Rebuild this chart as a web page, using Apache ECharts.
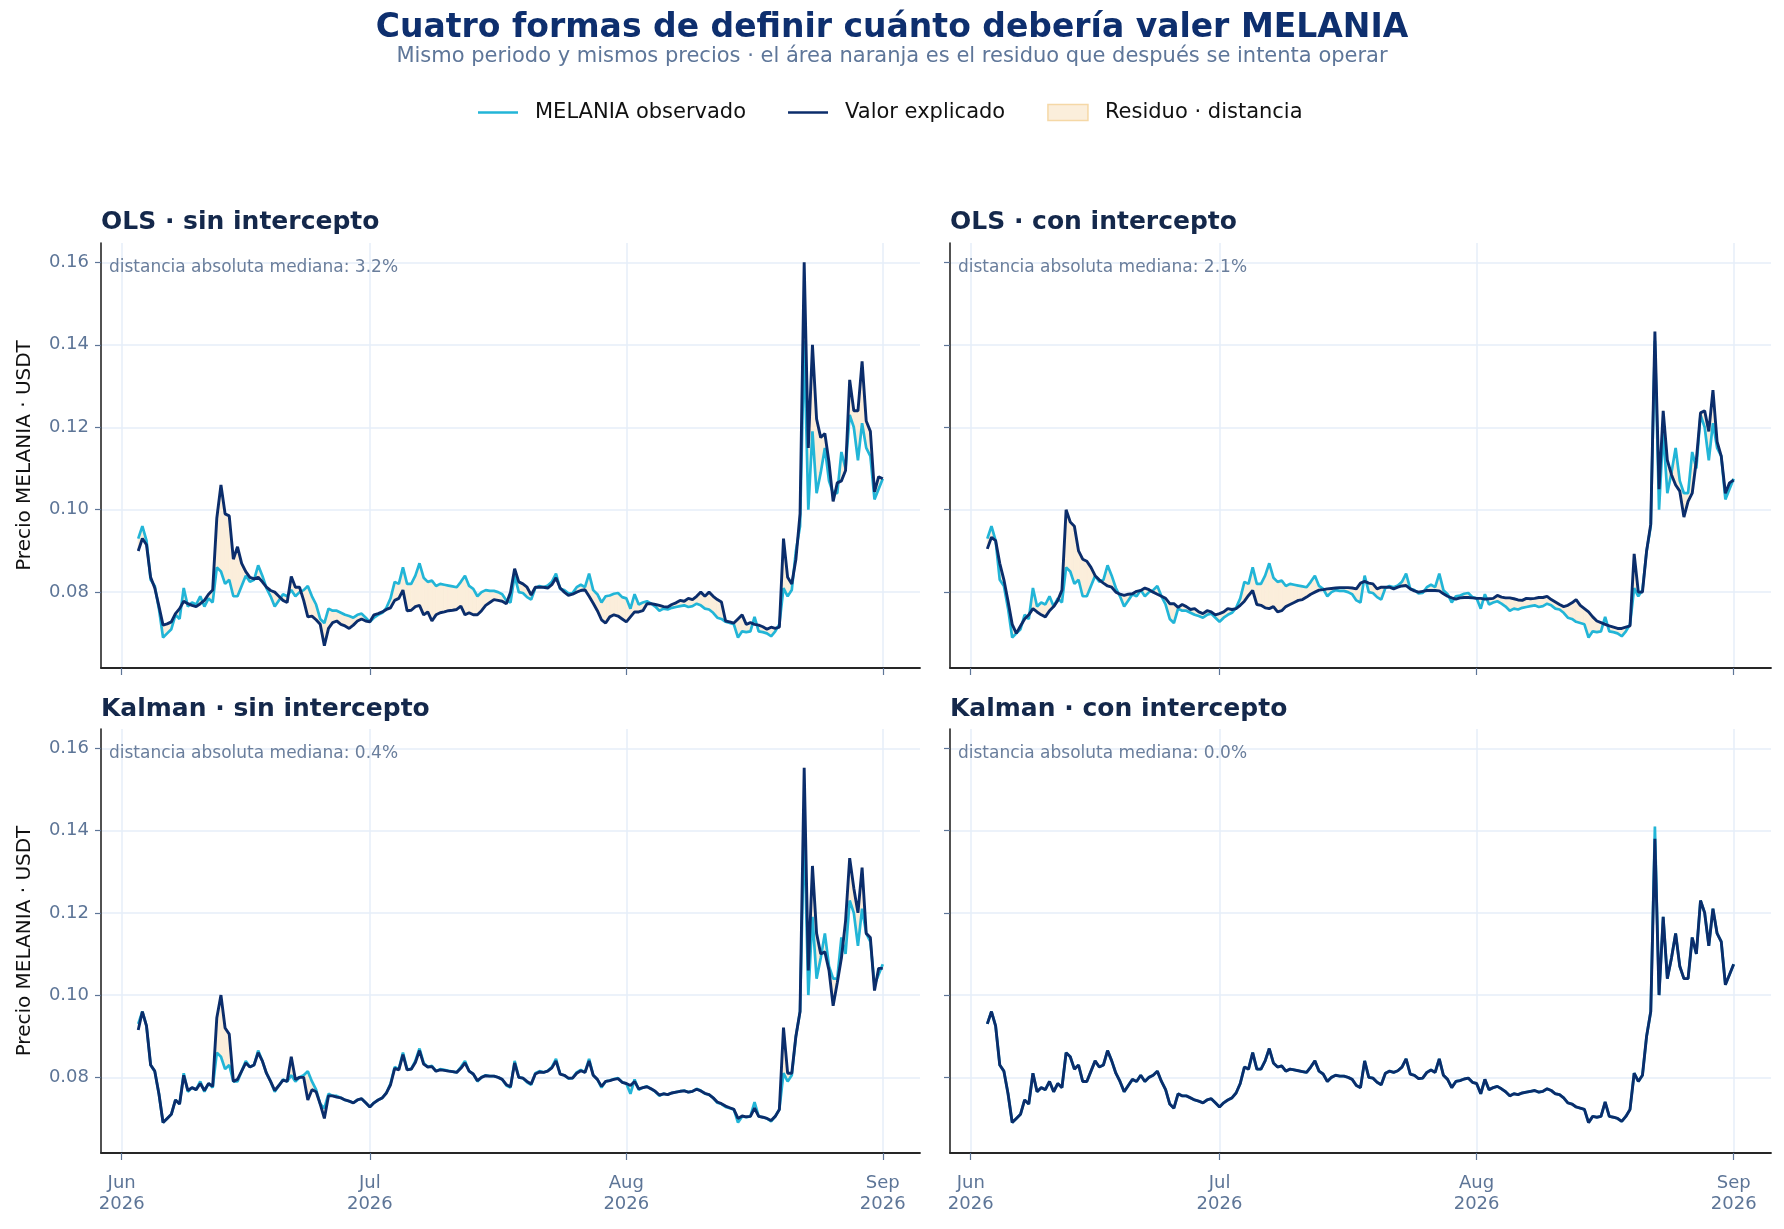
<!DOCTYPE html>
<html>
<head>
<meta charset="utf-8">
<title>Cuatro formas de definir cuánto debería valer MELANIA</title>
<script src="https://cdn.jsdelivr.net/npm/echarts@6/dist/echarts.min.js"></script>
<style>
  html, body { margin: 0; padding: 0; background: #ffffff; }
  #chart { width: 1784px; height: 1229px; }
</style>
</head>
<body>
<div id="chart"></div>
<script>
// precios leídos cada 12 h, desde el 3 de junio de 2026 hasta el 1 de septiembre
var inicio = new Date(2026, 5, 3, 0, 0, 0).getTime();
var pasoHoras = 12;

var observado = [
    0.0930, 0.0960, 0.0925, 0.0830, 0.0815, 0.0760, 0.0690, 0.0700, 0.0710, 0.0745,
    0.0735, 0.0810, 0.0765, 0.0775, 0.0770, 0.0790, 0.0765, 0.0785, 0.0775, 0.0860,
    0.0850, 0.0820, 0.0830, 0.0790, 0.0790, 0.0815, 0.0840, 0.0825, 0.0830, 0.0865,
    0.0840, 0.0810, 0.0790, 0.0765, 0.0780, 0.0795, 0.0790, 0.0805, 0.0790, 0.0800,
    0.0805, 0.0815, 0.0790, 0.0770, 0.0735, 0.0725, 0.0760, 0.0755, 0.0755, 0.0750,
    0.0745, 0.0742, 0.0738, 0.0745, 0.0748, 0.0738, 0.0728, 0.0738, 0.0745, 0.0750,
    0.0762, 0.0785, 0.0825, 0.0820, 0.0860, 0.0820, 0.0820, 0.0840, 0.0870, 0.0835,
    0.0825, 0.0828, 0.0815, 0.0820, 0.0818, 0.0816, 0.0814, 0.0812, 0.0825, 0.0840,
    0.0815, 0.0808, 0.0790, 0.0800, 0.0805, 0.0803, 0.0803, 0.0800, 0.0795, 0.0780,
    0.0775, 0.0840, 0.0800, 0.0798, 0.0788, 0.0782, 0.0810, 0.0815, 0.0812, 0.0816,
    0.0825, 0.0845, 0.0808, 0.0805, 0.0797, 0.0798, 0.0812, 0.0818, 0.0812, 0.0845,
    0.0805, 0.0795, 0.0775, 0.0790, 0.0792, 0.0796, 0.0798, 0.0788, 0.0785, 0.0760,
    0.0795, 0.0770, 0.0775, 0.0778, 0.0772, 0.0765, 0.0755, 0.0760, 0.0758, 0.0762,
    0.0764, 0.0766, 0.0768, 0.0764, 0.0766, 0.0772, 0.0768, 0.0760, 0.0758, 0.0750,
    0.0738, 0.0735, 0.0728, 0.0725, 0.0722, 0.0690, 0.0705, 0.0703, 0.0705, 0.0740,
    0.0705, 0.0703, 0.0700, 0.0693, 0.0705, 0.0722, 0.0810, 0.0790, 0.0805, 0.0900,
    0.0960, 0.1410, 0.1000, 0.1190, 0.1040, 0.1090, 0.1150, 0.1070, 0.1040, 0.1040,
    0.1140, 0.1100, 0.1230, 0.1200, 0.1120, 0.1210, 0.1150, 0.1130, 0.1025, 0.1050,
    0.1075
];

var olsSinIntercepto = [
    0.0900, 0.0930, 0.0915, 0.0836, 0.0810, 0.0766, 0.0720, 0.0723, 0.0728, 0.0748,
    0.0760, 0.0778, 0.0772, 0.0768, 0.0765, 0.0772, 0.0780, 0.0795, 0.0805, 0.0980,
    0.1060, 0.0990, 0.0985, 0.0880, 0.0910, 0.0870, 0.0850, 0.0836, 0.0832, 0.0836,
    0.0825, 0.0812, 0.0804, 0.0800, 0.0790, 0.0780, 0.0775, 0.0838, 0.0812, 0.0812,
    0.0780, 0.0740, 0.0742, 0.0733, 0.0722, 0.0670, 0.0712, 0.0726, 0.0730, 0.0722,
    0.0718, 0.0712, 0.0720, 0.0730, 0.0735, 0.0730, 0.0728, 0.0745, 0.0748, 0.0752,
    0.0758, 0.0762, 0.0780, 0.0785, 0.0805, 0.0755, 0.0756, 0.0765, 0.0768, 0.0745,
    0.0752, 0.0730, 0.0745, 0.0750, 0.0752, 0.0755, 0.0756, 0.0758, 0.0766, 0.0745,
    0.0750, 0.0745, 0.0745, 0.0755, 0.0768, 0.0775, 0.0782, 0.0780, 0.0778, 0.0772,
    0.0800, 0.0857, 0.0825, 0.0820, 0.0812, 0.0793, 0.0812, 0.0812, 0.0812, 0.0810,
    0.0818, 0.0835, 0.0810, 0.0800, 0.0792, 0.0795, 0.0800, 0.0804, 0.0806, 0.0790,
    0.0773, 0.0755, 0.0733, 0.0725, 0.0740, 0.0745, 0.0742, 0.0735, 0.0728, 0.0740,
    0.0752, 0.0752, 0.0755, 0.0772, 0.0772, 0.0770, 0.0768, 0.0765, 0.0764, 0.0770,
    0.0774, 0.0780, 0.0778, 0.0785, 0.0782, 0.0790, 0.0800, 0.0790, 0.0800, 0.0790,
    0.0782, 0.0776, 0.0730, 0.0728, 0.0725, 0.0735, 0.0745, 0.0722, 0.0726, 0.0722,
    0.0720, 0.0716, 0.0710, 0.0715, 0.0712, 0.0715, 0.0930, 0.0836, 0.0820, 0.0880,
    0.0990, 0.1600, 0.1150, 0.1400, 0.1220, 0.1175, 0.1185, 0.1115, 0.1020, 0.1065,
    0.1070, 0.1095, 0.1315, 0.1240, 0.1240, 0.1360, 0.1215, 0.1190, 0.1043, 0.1080,
    0.1075
];

var olsConIntercepto = [
    0.0905, 0.0933, 0.0925, 0.0870, 0.0830, 0.0778, 0.0722, 0.0700, 0.0718, 0.0735,
    0.0745, 0.0760, 0.0752, 0.0745, 0.0740, 0.0755, 0.0765, 0.0780, 0.0805, 0.1000,
    0.0970, 0.0960, 0.0900, 0.0880, 0.0875, 0.0860, 0.0840, 0.0830, 0.0822, 0.0815,
    0.0812, 0.0800, 0.0795, 0.0792, 0.0795, 0.0796, 0.0802, 0.0804, 0.0810, 0.0806,
    0.0800, 0.0795, 0.0790, 0.0785, 0.0772, 0.0772, 0.0763, 0.0770, 0.0765, 0.0758,
    0.0760, 0.0752, 0.0748, 0.0755, 0.0752, 0.0745, 0.0748, 0.0752, 0.0760, 0.0758,
    0.0760, 0.0768, 0.0778, 0.0792, 0.0804, 0.0770, 0.0768, 0.0762, 0.0760, 0.0765,
    0.0752, 0.0755, 0.0765, 0.0770, 0.0775, 0.0780, 0.0782, 0.0788, 0.0795, 0.0800,
    0.0805, 0.0806, 0.0808, 0.0809, 0.0810, 0.0811, 0.0811, 0.0811, 0.0810, 0.0808,
    0.0822, 0.0826, 0.0822, 0.0820, 0.0808, 0.0812, 0.0812, 0.0812, 0.0808, 0.0812,
    0.0815, 0.0816, 0.0808, 0.0803, 0.0800, 0.0802, 0.0804, 0.0804, 0.0804, 0.0803,
    0.0796, 0.0790, 0.0786, 0.0783, 0.0786, 0.0787, 0.0787, 0.0786, 0.0785, 0.0785,
    0.0783, 0.0784, 0.0785, 0.0792, 0.0788, 0.0786, 0.0786, 0.0784, 0.0781, 0.0780,
    0.0785, 0.0784, 0.0785, 0.0787, 0.0787, 0.0790, 0.0782, 0.0776, 0.0770, 0.0765,
    0.0768, 0.0774, 0.0782, 0.0768, 0.0760, 0.0752, 0.0740, 0.0730, 0.0726, 0.0722,
    0.0718, 0.0715, 0.0712, 0.0712, 0.0715, 0.0718, 0.0893, 0.0800, 0.0800, 0.0900,
    0.0965, 0.1432, 0.1050, 0.1240, 0.1120, 0.1085, 0.1060, 0.1045, 0.0982, 0.1020,
    0.1040, 0.1120, 0.1235, 0.1240, 0.1190, 0.1290, 0.1165, 0.1130, 0.1040, 0.1065,
    0.1072
];

var kalmanSinIntercepto = [
    0.0915, 0.0960, 0.0925, 0.0830, 0.0815, 0.0760, 0.0690, 0.0700, 0.0710, 0.0745,
    0.0735, 0.0805, 0.0768, 0.0775, 0.0770, 0.0785, 0.0768, 0.0785, 0.0778, 0.0945,
    0.1000, 0.0920, 0.0905, 0.0790, 0.0795, 0.0815, 0.0835, 0.0825, 0.0830, 0.0860,
    0.0840, 0.0810, 0.0790, 0.0768, 0.0780, 0.0793, 0.0790, 0.0850, 0.0795, 0.0800,
    0.0800, 0.0745, 0.0770, 0.0765, 0.0735, 0.0700, 0.0755, 0.0755, 0.0752, 0.0750,
    0.0745, 0.0742, 0.0738, 0.0745, 0.0748, 0.0738, 0.0728, 0.0738, 0.0745, 0.0750,
    0.0762, 0.0782, 0.0822, 0.0818, 0.0855, 0.0818, 0.0820, 0.0836, 0.0865, 0.0832,
    0.0825, 0.0826, 0.0815, 0.0818, 0.0817, 0.0815, 0.0814, 0.0812, 0.0822, 0.0835,
    0.0815, 0.0808, 0.0792, 0.0800, 0.0804, 0.0803, 0.0803, 0.0800, 0.0795, 0.0782,
    0.0777, 0.0835, 0.0800, 0.0798, 0.0790, 0.0784, 0.0808, 0.0813, 0.0812, 0.0815,
    0.0823, 0.0840, 0.0808, 0.0805, 0.0798, 0.0798, 0.0810, 0.0816, 0.0812, 0.0840,
    0.0805, 0.0795, 0.0778, 0.0790, 0.0792, 0.0795, 0.0797, 0.0788, 0.0785, 0.0780,
    0.0790, 0.0772, 0.0775, 0.0777, 0.0772, 0.0766, 0.0757, 0.0760, 0.0758, 0.0762,
    0.0764, 0.0766, 0.0767, 0.0764, 0.0766, 0.0771, 0.0767, 0.0761, 0.0758, 0.0750,
    0.0740, 0.0736, 0.0730, 0.0726, 0.0722, 0.0700, 0.0706, 0.0704, 0.0705, 0.0725,
    0.0705, 0.0703, 0.0700, 0.0695, 0.0705, 0.0722, 0.0921, 0.0810, 0.0810, 0.0900,
    0.0960, 0.1553, 0.1060, 0.1314, 0.1150, 0.1100, 0.1105, 0.1060, 0.0974, 0.1030,
    0.1090, 0.1180, 0.1333, 0.1260, 0.1200, 0.1310, 0.1150, 0.1140, 0.1011, 0.1065,
    0.1065
];

var kalmanConIntercepto = [
    0.0930, 0.0960, 0.0925, 0.0830, 0.0815, 0.0760, 0.0690, 0.0700, 0.0710, 0.0745,
    0.0735, 0.0810, 0.0765, 0.0775, 0.0770, 0.0790, 0.0765, 0.0785, 0.0775, 0.0860,
    0.0850, 0.0820, 0.0830, 0.0790, 0.0790, 0.0815, 0.0840, 0.0825, 0.0830, 0.0865,
    0.0840, 0.0810, 0.0790, 0.0765, 0.0780, 0.0795, 0.0790, 0.0805, 0.0790, 0.0800,
    0.0805, 0.0815, 0.0790, 0.0770, 0.0735, 0.0725, 0.0760, 0.0755, 0.0755, 0.0750,
    0.0745, 0.0742, 0.0738, 0.0745, 0.0748, 0.0738, 0.0728, 0.0738, 0.0745, 0.0750,
    0.0762, 0.0785, 0.0825, 0.0820, 0.0860, 0.0820, 0.0820, 0.0840, 0.0870, 0.0835,
    0.0825, 0.0828, 0.0815, 0.0820, 0.0818, 0.0816, 0.0814, 0.0812, 0.0825, 0.0840,
    0.0815, 0.0808, 0.0790, 0.0800, 0.0805, 0.0803, 0.0803, 0.0800, 0.0795, 0.0780,
    0.0775, 0.0840, 0.0800, 0.0798, 0.0788, 0.0782, 0.0810, 0.0815, 0.0812, 0.0816,
    0.0825, 0.0845, 0.0808, 0.0805, 0.0797, 0.0798, 0.0812, 0.0818, 0.0812, 0.0845,
    0.0805, 0.0795, 0.0775, 0.0790, 0.0792, 0.0796, 0.0798, 0.0788, 0.0785, 0.0760,
    0.0795, 0.0770, 0.0775, 0.0778, 0.0772, 0.0765, 0.0755, 0.0760, 0.0758, 0.0762,
    0.0764, 0.0766, 0.0768, 0.0764, 0.0766, 0.0772, 0.0768, 0.0760, 0.0758, 0.0750,
    0.0738, 0.0735, 0.0728, 0.0725, 0.0722, 0.0690, 0.0705, 0.0703, 0.0705, 0.0740,
    0.0705, 0.0703, 0.0700, 0.0693, 0.0705, 0.0722, 0.0810, 0.0790, 0.0805, 0.0900,
    0.0960, 0.1380, 0.1000, 0.1190, 0.1040, 0.1090, 0.1150, 0.1070, 0.1040, 0.1040,
    0.1140, 0.1100, 0.1230, 0.1200, 0.1120, 0.1210, 0.1150, 0.1130, 0.1025, 0.1050,
    0.1075
];

var paneles = ['OLS · sin intercepto', 'OLS · con intercepto', 'Kalman · sin intercepto', 'Kalman · con intercepto'];
var distancias = ['3.2%', '2.1%', '0.4%', '0.0%'];
var marcasY = [0.08, 0.10, 0.12, 0.14, 0.16];
var marcasX = [[2026, 6, 1], [2026, 7, 1], [2026, 8, 1], [2026, 9, 1]];
var meses = ['Jan', 'Feb', 'Mar', 'Apr', 'May', 'Jun', 'Jul', 'Aug', 'Sep', 'Oct', 'Nov', 'Dec'];

var ajustes = [olsSinIntercepto, olsConIntercepto, kalmanSinIntercepto, kalmanConIntercepto];

var celeste = '#22B5D7';
var marino = '#0B2D6B';
var naranja = '#FBEEDB';
var pizarra = '#5D7597';
var rejilla = '#E6EEF8';

var tiempos = observado.map(function (v, i) {
    return inicio + i * pasoHoras * 3600 * 1000;
});
var ticksX = marcasX.map(function (m) {
    return new Date(m[0], m[1] - 1, m[2]).getTime();
});
var xMin = new Date(2026, 4, 29, 12).getTime();
var xMax = new Date(2026, 8, 5, 12).getTime();

var grids = [
    { left: 101, top: 243, width: 819, height: 425 },
    { left: 950, top: 243, width: 821, height: 425 },
    { left: 101, top: 729, width: 819, height: 424 },
    { left: 950, top: 729, width: 821, height: 424 }
];

// banda entre observado y ajuste: un cuadrilátero por tramo
function dibujarResiduo(params, api) {
    var a = api.coord([api.value(0), api.value(2)]);
    var b = api.coord([api.value(1), api.value(3)]);
    var c = api.coord([api.value(1), api.value(5)]);
    var d = api.coord([api.value(0), api.value(4)]);
    return {
        type: 'polygon',
        shape: { points: [a, b, c, d] },
        style: { fill: naranja, stroke: naranja, lineWidth: 0.8 }
    };
}

var xAxes = [], yAxes = [], series = [], textos = [];

paneles.forEach(function (titulo, i) {
    var abajo = i >= 2;
    var izquierda = i % 2 === 0;

    // eje de fechas como valor numérico (ms) para poder fijar las marcas mensuales
    xAxes.push({
        type: 'value', gridIndex: i, min: xMin, max: xMax, scale: true,
        axisLine: { show: true, onZero: false, lineStyle: { color: '#262626', width: 1.8 } },
        axisTick: { show: true, customValues: ticksX, length: 7, lineStyle: { color: pizarra, width: 1.2 } },
        axisLabel: {
            show: abajo, customValues: ticksX, color: pizarra, fontSize: 18, lineHeight: 21, margin: 20,
            formatter: function (v) {
                var d = new Date(v);
                return meses[d.getMonth()] + '\n' + d.getFullYear();
            }
        },
        splitLine: { show: true, lineStyle: { color: rejilla, width: 1.5 } }
    });

    yAxes.push({
        type: 'value', gridIndex: i, min: 0.0616, max: 0.1647,
        name: izquierda ? 'Precio MELANIA · USDT' : '',
        nameLocation: 'middle', nameRotate: 90, nameGap: 66,
        nameTextStyle: { fontSize: 20, color: '#111111' },
        axisLine: { show: true, onZero: false, lineStyle: { color: '#262626', width: 1.6 } },
        axisTick: { show: true, customValues: marcasY, length: 6, lineStyle: { color: pizarra, width: 1.2 } },
        axisLabel: {
            show: izquierda, customValues: marcasY, color: pizarra, fontSize: 18, margin: 12,
            formatter: function (v) { return v.toFixed(2); }
        },
        splitLine: { show: true, lineStyle: { color: rejilla, width: 1.5 } }
    });

    var ajuste = ajustes[i];
    var tramos = [], obs = [], fit = [];
    for (var j = 0; j < observado.length; j++) {
        obs.push([tiempos[j], observado[j]]);
        fit.push([tiempos[j], ajuste[j]]);
        if (j < observado.length - 1) {
            tramos.push([tiempos[j], tiempos[j + 1], observado[j], observado[j + 1], ajuste[j], ajuste[j + 1]]);
        }
    }

    series.push({
        type: 'custom', name: 'Residuo · distancia', xAxisIndex: i, yAxisIndex: i,
        data: tramos, encode: { x: [0, 1], y: [2, 3, 4, 5] },
        renderItem: dibujarResiduo, itemStyle: { color: naranja },
        silent: true, z: 1
    });
    series.push({
        type: 'line', name: 'MELANIA observado', xAxisIndex: i, yAxisIndex: i, data: obs,
        symbol: 'none', z: 2, itemStyle: { color: celeste },
        lineStyle: { color: celeste, width: 2.7 }
    });
    series.push({
        type: 'line', name: 'Valor explicado', xAxisIndex: i, yAxisIndex: i, data: fit,
        symbol: 'none', z: 3, itemStyle: { color: marino },
        lineStyle: { color: marino, width: 2.9 }
    });

    var g = grids[i];
    textos.push({
        type: 'text', x: g.left, y: abajo ? 709 : 222, z: 100,
        style: { text: titulo, fill: '#14284B', font: 'bold 25px "DejaVu Sans"', align: 'left', verticalAlign: 'middle' }
    });
    textos.push({
        type: 'text', x: g.left + 8, y: abajo ? 754 : 268, z: 100,
        style: { text: 'distancia absoluta mediana: ' + distancias[i], fill: '#6A7E9C', font: '17px "DejaVu Sans"', align: 'left', verticalAlign: 'middle' }
    });
});

textos.push({
    type: 'text', x: 892, y: 28, z: 100,
    style: { text: 'Cuatro formas de definir cuánto debería valer MELANIA', fill: '#0E2F6E', font: 'bold 33px "DejaVu Sans"', align: 'center', verticalAlign: 'middle' }
});
textos.push({
    type: 'text', x: 892, y: 57, z: 100,
    style: { text: 'Mismo periodo y mismos precios · el área naranja es el residuo que después se intenta operar', fill: '#5E7699', font: '21px "DejaVu Sans"', align: 'center', verticalAlign: 'middle' }
});

var chart = echarts.init(document.getElementById('chart'), null, { renderer: 'canvas' });
chart.setOption({
    backgroundColor: '#ffffff',
    animation: false,
    textStyle: { fontFamily: 'DejaVu Sans' },
    legend: {
        left: 478, top: 102, itemWidth: 40, itemHeight: 16, itemGap: 42, padding: 0,
        symbolKeepAspect: true, selectedMode: false,
        textStyle: { fontSize: 21, color: '#111111', padding: [0, 0, 0, 12] },
        data: [
            { name: 'MELANIA observado', icon: 'path://M0,0H40V2.5H0Z', itemStyle: { color: celeste } },
            { name: 'Valor explicado', icon: 'path://M0,0H40V2.5H0Z', itemStyle: { color: marino } },
            { name: 'Residuo · distancia', icon: 'rect', itemStyle: { color: naranja, borderColor: '#F5D8A6', borderWidth: 1.5 } }
        ]
    },
    grid: grids,
    xAxis: xAxes,
    yAxis: yAxes,
    series: series,
    graphic: { elements: textos }
});
</script>
</body>
</html>
